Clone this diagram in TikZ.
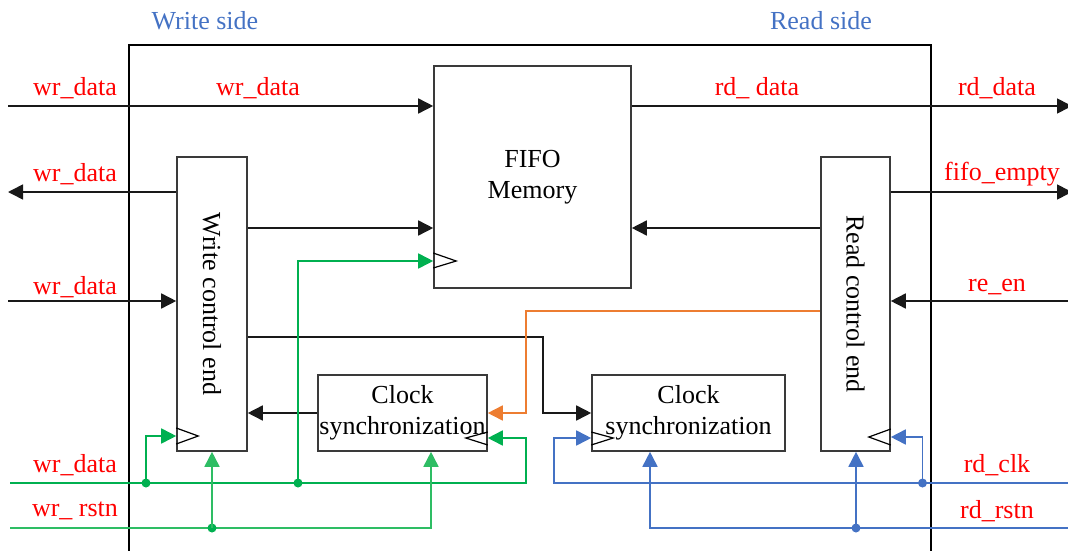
\documentclass[tikz,border=0pt]{standalone}
\usepackage{fontspec}
\setmainfont{Liberation Serif}
\usetikzlibrary{arrows.meta,calc}
\definecolor{lblred}{HTML}{FF0000}
\definecolor{sideblue}{HTML}{4472C4}
\definecolor{gr}{HTML}{00B050}
\definecolor{gr2}{HTML}{2EBD64}
\definecolor{org}{HTML}{ED7D31}
\definecolor{bl}{HTML}{4472C4}
\definecolor{boxgray}{HTML}{3A3A3A}
\tikzset{
  x=1pt, y=-1pt,
  every node/.style={font=\fontsize{26}{31}\selectfont, inner sep=0pt},
  blk/.style={draw=boxgray, line width=1.6pt, fill=white, align=center},
  lbl/.style={text=lblred},
  side/.style={text=sideblue},
  arr/.style={draw=black!90, line width=1.6pt, -{Triangle[length=15pt,width=15pt]}},
  garr/.style={draw=gr, line width=1.7pt, -{Triangle[length=15pt,width=15pt]}},
  garr2/.style={draw=gr2, line width=1.7pt, -{Triangle[length=15pt,width=15pt]}},
  barr/.style={draw=bl, line width=1.7pt, -{Triangle[length=15pt,width=15pt]}},
  oarr/.style={draw=org, line width=1.7pt, -{Triangle[length=15pt,width=15pt]}},
  clk/.style={draw=black, line width=1.2pt},
  gdot/.style={circle, fill=gr, minimum size=9pt},
  bdot/.style={circle, fill=bl, minimum size=9pt},
}
\begin{document}
\begin{tikzpicture}
\useasboundingbox (0,0) rectangle (1068,551);
% outer frame
\draw[black, line width=1.5pt] (129,560) -- (129,45) -- (931,45) -- (931,560);
% headings
\node[side] (ws) at (205,21) {Write side};
\node[side] (rs) at (821,21) {Read side};
% blocks
\node[blk, minimum width=197pt, minimum height=222pt] (fifo) at (532.5,177) {FIFO\\Memory};
\node[blk, minimum width=70pt, minimum height=294pt] (wctrl) at (212,304) {\rotatebox{-90}{Write control end}};
\node[blk, minimum width=69pt, minimum height=294pt] (rctrl) at (855.5,304) {\rotatebox{-90}{Read control end}};
\node[blk, minimum width=169pt, minimum height=76pt] (cs1) at (402.5,413) {Clock\\synchronization};
\node[blk, minimum width=193pt, minimum height=76pt] (cs2) at (688.5,413) {Clock\\synchronization};
% free ends
\coordinate (in1) at (8,106);
\coordinate (out1) at (1072,106);
\coordinate (out2) at (8,192);
\coordinate (out3) at (1072,192);
\coordinate (in3) at (8,301);
\coordinate (in4) at (1072,301);
\coordinate (wclk) at (10,483);
\coordinate (wrst) at (10,528);
\coordinate (rclk) at (1068,483);
\coordinate (rrst) at (1068,528);
% black connectors
\draw[arr] (in1) -- (in1 -| fifo.west);
\draw[arr] (in1 -| fifo.east) -- (out1);
\draw[arr] (out2 -| wctrl.west) -- (out2);
\draw[arr] (out3 -| rctrl.east) -- (out3);
\draw[arr] (in3) -- (in3 -| wctrl.west);
\draw[arr] (in4) -- (in4 -| rctrl.east);
\draw[arr] ([yshift=76pt]wctrl.east) coordinate (t1) -- (t1 -| fifo.west);
\draw[arr] ([yshift=76pt]rctrl.west) coordinate (t2) -- (t2 -| fifo.east);
\draw[arr] ([yshift=-33pt]wctrl.east) -| ([xshift=-48.5pt]cs2.west) -- (cs2.west);
\draw[arr] (cs1.west) -- (cs1.west -| wctrl.east);
% orange
\draw[oarr] ([yshift=-7pt]rctrl.west) -| ([xshift=38.5pt]cs1.east) -- (cs1.east);
% green clock
\draw[garr] (wclk) -| ([xshift=38.5pt,yshift=-25pt]cs1.east) -- ([yshift=-25pt]cs1.east);
\node[gdot] (gd1) at (146,483) {};
\node[gdot] (gd2) at (298,483) {};
\draw[garr] (gd1.center) |- ([yshift=-132pt]wctrl.west);
\draw[garr] (gd2.center) |- ([yshift=-84pt]fifo.west);
% green reset
\draw[garr2] (wrst) -| ([xshift=28.5pt]cs1.south);
\node[gdot] (gd3) at (212,528) {};
\draw[garr2] (gd3.center) -- (gd3 |- wctrl.south);
% blue clock
\draw[barr] (rclk) -| ([xshift=-37pt,yshift=-25pt]cs2.west) -- ([yshift=-25pt]cs2.west);
\node[bdot] (bd1) at (922.5,483) {};
\draw[barr] (bd1.center) |- ([yshift=-133pt]rctrl.east);
% blue reset
\draw[barr] (rrst) -| ([xshift=-38.5pt]cs2.south);
\node[bdot] (bd2) at (856,528) {};
\draw[barr] (bd2.center) -- (bd2 |- rctrl.south);
% clock triangles
\draw[clk] ([yshift=-124pt]wctrl.west) -- ++(22,8) -- ++(-22,8);
\draw[clk] ([yshift=-76pt]fifo.west) -- ++(23,8) -- ++(-23,7);
\draw[clk] ([yshift=-19pt]cs1.east) -- ++(-22,6) -- ++(22,7);
\draw[clk] ([yshift=-19pt]cs2.west) -- ++(22,6) -- ++(-22,7);
\draw[clk] ([yshift=-125pt]rctrl.east) -- ++(-22,8) -- ++(22,8);
% labels
\node[lbl] (l1) at (75,88) {wr\_data};
\node[lbl] (l2) at (258,88) {wr\_data};
\node[lbl] (l3) at (757,88) {rd\_ data};
\node[lbl] (l4) at (997,88) {rd\_data};
\node[lbl] (l5) at (75,174) {wr\_data};
\node[lbl] (l6) at (1002,174) {fifo\_empty};
\node[lbl] (l7) at (75,287) {wr\_data};
\node[lbl] (l8) at (997,287) {re\_en};
\node[lbl] (l9) at (75,465) {wr\_data};
\node[lbl] (l10) at (75,511) {wr\_ rstn};
\node[lbl] (l11) at (997,465) {rd\_clk};
\node[lbl] (l12) at (997,511) {rd\_rstn};
\end{tikzpicture}
\end{document}
